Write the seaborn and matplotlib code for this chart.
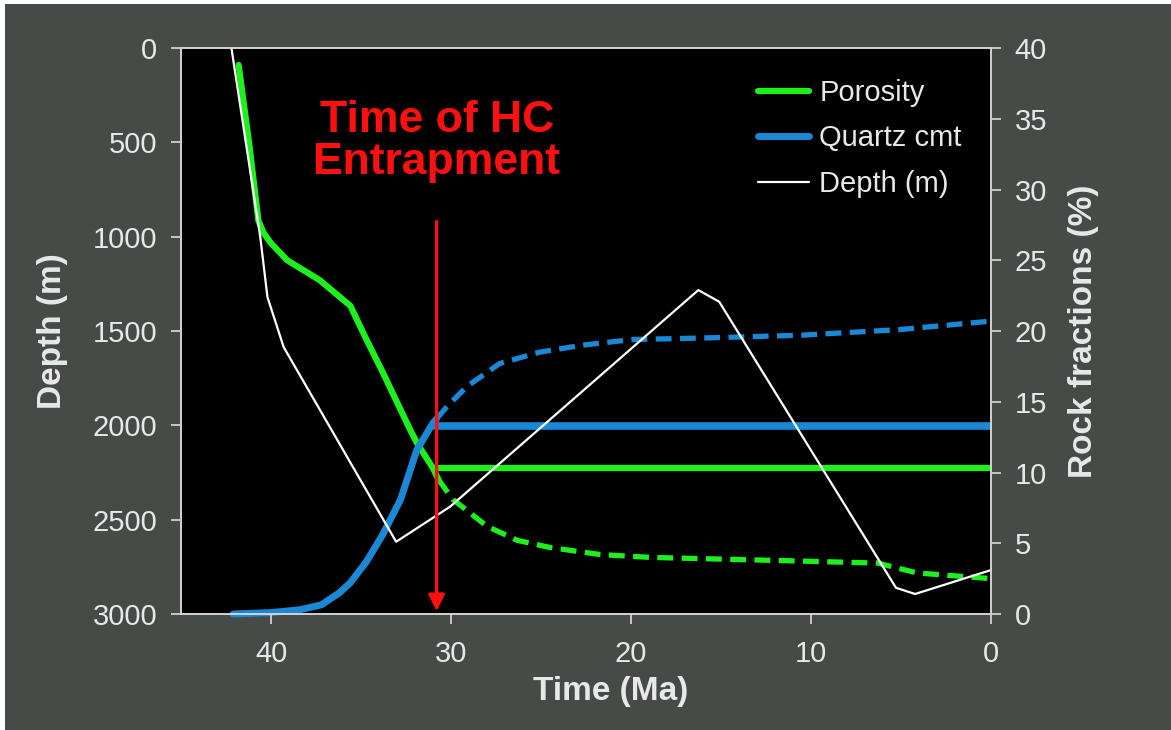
import pandas as pd
import seaborn as sns
import matplotlib
matplotlib.use('Agg')
import matplotlib.pyplot as plt
from matplotlib.patches import Rectangle

#%%
# burial curve (left axis, m)
depth_time = [42.2, 40.6, 40.2, 39.3, 33.05, 30.05, 16.26, 15.1, 5.28, 4.22, 0.0]
depth_m = [0, 1000, 1320, 1585, 2617, 2431, 1283, 1345, 2861, 2894, 2767]

# porosity (right axis, %)
por_time = [41.8, 41.2, 40.7, 40.4, 40.0, 39.1, 38.2, 37.3, 35.8, 35.6, 34.7, 33.8, 32.3, 31.9, 31.0,
            30.7, 29.9, 28.0, 26.3, 24.5, 21.7, 18.9, 12.4, 6.3, 4.1, 0.0]
por_frac = [38.8, 33.1, 27.8, 26.9, 26.2, 25.0, 24.3, 23.6, 22.0, 21.8, 19.4, 17.1, 13.1, 12.1, 10.3,
            9.5, 8.1, 6.2, 5.2, 4.7, 4.2, 4.0, 3.8, 3.6, 2.9, 2.5]

# quartz cement (right axis, %)
qtz_time = [42.1, 40.0, 38.4, 37.2, 36.2, 35.6, 34.7, 33.8, 32.8, 31.9, 31.0, 30.8, 30.2, 29.1, 27.3,
            25.1, 22.7, 19.9, 16.2, 10.6, 5.1, 0.0]
qtz_frac = [0.0, 0.1, 0.3, 0.65, 1.5, 2.2, 3.7, 5.6, 8.1, 11.6, 13.5, 13.8, 14.7, 16.1, 17.7,
            18.5, 19.0, 19.4, 19.5, 19.7, 20.1, 20.7]

# values frozen after hydrocarbon entrapment
frozen_time = [30.9, 0.0]
por_frozen = [10.3, 10.3]
qtz_frozen = [13.3, 13.3]
entrap_time = 30.8

#%%
sns.set_theme(style='ticks')
plt.rcParams['font.family'] = ['Liberation Sans', 'DejaVu Sans']

bg = '#474b48'
fg = '#e8e8e8'
green = '#1ef01e'
blue = '#1b88d6'
red = '#ff1010'

depth = pd.DataFrame({'time': depth_time, 'depth': depth_m})
por = pd.DataFrame({'time': por_time, 'frac': por_frac})
qtz = pd.DataFrame({'time': qtz_time, 'frac': qtz_frac})
frozen = pd.DataFrame({'time': frozen_time, 'por': por_frozen, 'qtz': qtz_frozen})

fig = plt.figure(figsize=(11.71, 7.30), dpi=100, facecolor='white')
fig.add_artist(Rectangle((5 / 1171, 0), 1, 1 - 4 / 730, transform=fig.transFigure,
                         facecolor=bg, edgecolor='none', zorder=-5))
ax = fig.add_axes([0.1546, 0.1589, 0.6917, 0.7753])
ax2 = ax.twinx()
ax2.set_facecolor('black')
ax2.patch.set_visible(True)
ax.set_zorder(ax2.get_zorder() + 1)
ax.patch.set_visible(False)

#%%
# right axis: porosity and quartz cement
sns.lineplot(data=por[por.time >= 30.7], x='time', y='frac', ax=ax2, color=green, lw=4.5,
             sort=False, label='Porosity', solid_joinstyle='round')
sns.lineplot(data=por[por.time <= 30.8], x='time', y='frac', ax=ax2, color=green, lw=3.8,
             sort=False, linestyle=(0, (3, 1.6)))
sns.lineplot(data=frozen, x='time', y='por', ax=ax2, color=green, lw=4.5, sort=False)
sns.lineplot(data=qtz[qtz.time >= 30.7], x='time', y='frac', ax=ax2, color=blue, lw=5,
             sort=False, label='Quartz cmt', solid_joinstyle='round')
ax2.lines[-1].set_clip_on(False)
sns.lineplot(data=qtz[qtz.time <= 30.8], x='time', y='frac', ax=ax2, color=blue, lw=3.8,
             sort=False, linestyle=(0, (3, 1.6)))
sns.lineplot(data=frozen, x='time', y='qtz', ax=ax2, color=blue, lw=5.5, sort=False)
if ax2.get_legend():
    ax2.get_legend().remove()

# left axis: burial depth
sns.lineplot(data=depth, x='time', y='depth', ax=ax, color='white', lw=1.6, sort=False,
             label='Depth (m)')

ax.annotate('', xy=(entrap_time, 2985), xytext=(entrap_time, 920),
            arrowprops=dict(arrowstyle='-|>', color=red, lw=2.4, mutation_scale=24,
                            shrinkA=0, shrinkB=0))
ax.text(entrap_time, 495, 'Time of HC\nEntrapment', color=red, fontsize=32, fontweight='bold',
        ha='center', va='center', linespacing=1.05)

#%%
ax.set_xlim(45, 0)
ax.set_ylim(3000, 0)
ax2.set_ylim(0, 40)
ax.set_xticks([40, 30, 20, 10, 0])
ax.set_yticks(range(0, 3001, 500))
ax2.set_yticks(range(0, 41, 5))

for a in (ax, ax2):
    for s in a.spines.values():
        s.set_color('#d0d0d0')
        s.set_linewidth(1.3)
    a.tick_params(colors='#d0d0d0', labelcolor=fg, labelsize=21, length=7, width=1.3)
ax.tick_params(axis='y', pad=10)
ax.tick_params(axis='x', pad=12)
ax2.tick_params(axis='y', pad=10)

ax.set_xlabel('Time (Ma)', fontsize=24, fontweight='bold', color=fg)
ax.xaxis.set_label_coords(0.53, -0.11)
ax.set_ylabel('Depth (m)', fontsize=24, fontweight='bold', color=fg)
ax.yaxis.set_label_coords(-0.14, 0.5)
ax2.set_ylabel('Rock fractions (%)', fontsize=24, fontweight='bold', color=fg)
ax2.yaxis.set_label_coords(1.095, 0.5)

h1, l1 = ax2.get_legend_handles_labels()
h2, l2 = ax.get_legend_handles_labels()
ax.legend(h1 + h2, l1 + l2, loc='upper left', bbox_to_anchor=(0.68, 0.992), frameon=False,
          fontsize=21, labelcolor=fg, handlelength=1.75, handletextpad=0.35, labelspacing=0.6)

plt.savefig('out.png', dpi=100, facecolor=fig.get_facecolor())
